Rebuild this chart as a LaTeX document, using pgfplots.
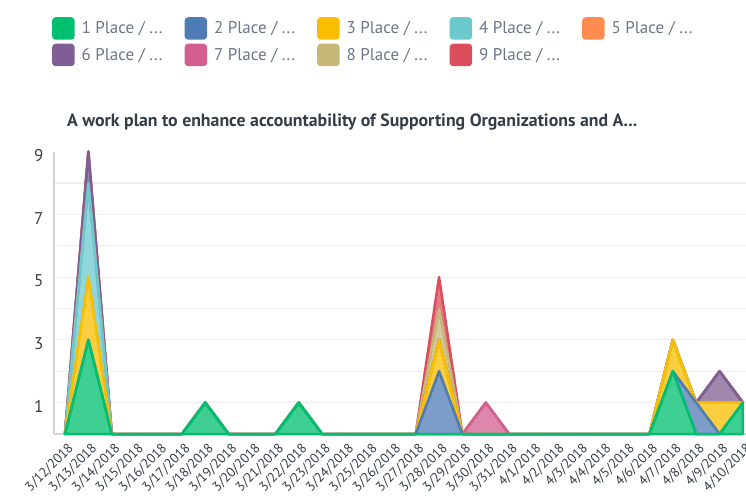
\documentclass[border=0pt]{standalone}
\usepackage{pgfplots}
\pgfplotsset{compat=1.18}
\usepackage{pgfplotstable}
\usepackage{fontspec}
\setmainfont{PT Sans}
\definecolor{c1}{HTML}{00BF6F}
\definecolor{c2}{HTML}{507CB6}
\definecolor{c3}{HTML}{F9BE00}
\definecolor{c4}{HTML}{6BC8CD}
\definecolor{c5}{HTML}{FF8B4F}
\definecolor{c6}{HTML}{7F5F93}
\definecolor{c7}{HTML}{D25F90}
\definecolor{c8}{HTML}{C7B879}
\definecolor{c9}{HTML}{DC4D5C}
\definecolor{txt}{HTML}{333E48}
\definecolor{leg}{HTML}{6B7787}
\definecolor{gridc}{HTML}{EDEEEE}
\definecolor{axc}{HTML}{D0D2D3}
\newcommand{\LE}[1]{\makebox[110pt][l]{\hspace{7pt}#1}}
\pgfplotstableread{
x s1 s2 s3 s4 s5 s6 s7 s8 s9
0 0 0 0 0 0 0 0 0 0
1 3 0 2 3 0 1 0 0 0
2 0 0 0 0 0 0 0 0 0
3 0 0 0 0 0 0 0 0 0
4 0 0 0 0 0 0 0 0 0
5 0 0 0 0 0 0 0 0 0
6 1 0 0 0 0 0 0 0 0
7 0 0 0 0 0 0 0 0 0
8 0 0 0 0 0 0 0 0 0
9 0 0 0 0 0 0 0 0 0
10 1 0 0 0 0 0 0 0 0
11 0 0 0 0 0 0 0 0 0
12 0 0 0 0 0 0 0 0 0
13 0 0 0 0 0 0 0 0 0
14 0 0 0 0 0 0 0 0 0
15 0 0 0 0 0 0 0 0 0
16 0 2 1 0 0 0 0 1 1
17 0 0 0 0 0 0 0 0 0
18 0 0 0 0 0 0 1 0 0
19 0 0 0 0 0 0 0 0 0
20 0 0 0 0 0 0 0 0 0
21 0 0 0 0 0 0 0 0 0
22 0 0 0 0 0 0 0 0 0
23 0 0 0 0 0 0 0 0 0
24 0 0 0 0 0 0 0 0 0
25 0 0 0 0 0 0 0 0 0
26 2 0 1 0 0 0 0 0 0
27 0 1 0 0 0 0 0 0 0
28 0 0 1 0 0 1 0 0 0
29 1 0 0 0 0 0 0 0 0
}\datatable
\begin{document}
\begin{tikzpicture}
\useasboundingbox (0,0) rectangle (746pt,498pt);
\begin{axis}[
  at={(54pt,64pt)}, anchor=south west,
  scale only axis, width=692pt, height=282.4pt,
  xmin=-0.47, xmax=29.13, ymin=0, ymax=9,
  stack plots=y, clip=false,
  axis lines*=left, axis line style={draw=axc, line width=1.5pt},
  major tick length=0pt, minor tick length=0pt,
  xtick={0,...,29},
  xticklabels={3/12/2018,3/13/2018,3/14/2018,3/15/2018,3/16/2018,3/17/2018,3/18/2018,3/19/2018,3/20/2018,3/21/2018,3/22/2018,3/23/2018,3/24/2018,3/25/2018,3/26/2018,3/27/2018,3/28/2018,3/29/2018,3/30/2018,3/31/2018,4/1/2018,4/2/2018,4/3/2018,4/4/2018,4/5/2018,4/6/2018,4/7/2018,4/8/2018,4/9/2018,4/10/2018},
  xticklabel style={rotate=45, anchor=north east, font=\fontsize{13.5}{13.5}\selectfont, text=txt, inner sep=1pt, xshift=-3pt, yshift=-6pt},
  ytick={1,3,5,7}, minor ytick={2,4,6,8}, extra y ticks={9}, extra y tick style={grid=none},
  ymajorgrids, yminorgrids,
  major grid style={draw=gridc, line width=1.2pt},
  minor grid style={draw=gridc, line width=1.2pt},
  yticklabel style={font=\fontsize{17}{17}\selectfont, text=txt, yshift=-4pt, xshift=-7pt},
  /pgf/number format/assume math mode=true,
  title={A work plan to enhance accountability of Supporting Organizations and A...},
  title style={at={(0.0188,1.0836)}, anchor=west, yshift=0pt, font=\bfseries\fontsize{17.8}{17.8}\selectfont, text=txt, inner sep=0pt},
  legend columns=5,
  legend style={at={(-0.003,1.4766)}, anchor=north west, draw=none, fill=none, inner sep=0pt, column sep=0pt, row sep=4pt, font=\fontsize{17}{17}\selectfont, text=leg, nodes={inner sep=0pt}},
  legend cell align=left,
  legend image code/.code={\fill[fill opacity=1, rounded corners=2.5pt] (0pt,-10pt) rectangle (20pt,10pt);},
  every axis plot/.append style={line width=2.5pt, line join=round, fill opacity=0.75},
]
\addplot[draw=c1, fill=c1] table[x=x,y=s1]{\datatable} \closedcycle;
\addlegendentry{\LE{1 Place / ...}}
\addplot[draw=c2, fill=c2] table[x=x,y=s2]{\datatable} \closedcycle;
\addlegendentry{\LE{2 Place / ...}}
\addplot[draw=c3, fill=c3] table[x=x,y=s3]{\datatable} \closedcycle;
\addlegendentry{\LE{3 Place / ...}}
\addplot[draw=c4, fill=c4] table[x=x,y=s4]{\datatable} \closedcycle;
\addlegendentry{\LE{4 Place / ...}}
\addplot[draw=c5, fill=c5] table[x=x,y=s5]{\datatable} \closedcycle;
\addlegendentry{\LE{5 Place / ...}}
\addplot[draw=c6, fill=c6] table[x=x,y=s6]{\datatable} \closedcycle;
\addlegendentry{\LE{6 Place / ...}}
\addplot[draw=c7, fill=c7] table[x=x,y=s7]{\datatable} \closedcycle;
\addlegendentry{\LE{7 Place / ...}}
\addplot[draw=c8, fill=c8] table[x=x,y=s8]{\datatable} \closedcycle;
\addlegendentry{\LE{8 Place / ...}}
\addplot[draw=c9, fill=c9] table[x=x,y=s9]{\datatable} \closedcycle;
\addlegendentry{\LE{9 Place / ...}}
\end{axis}
\end{tikzpicture}
\end{document}
